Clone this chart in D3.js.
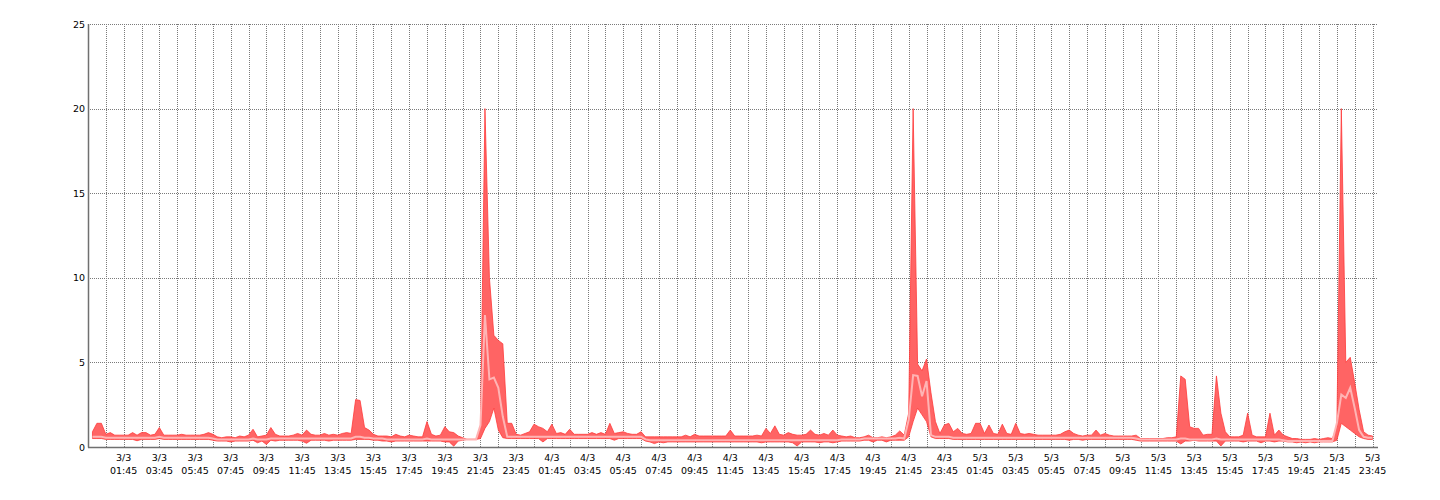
<!DOCTYPE html>
<html>
<head>
<meta charset="utf-8">
<script src="https://cdn.jsdelivr.net/npm/d3@7/dist/d3.min.js"></script>
<style>
  html, body { margin: 0; padding: 0; background: #ffffff; }
  svg { display: block; }
  text { font-family: "DejaVu Sans", Verdana, sans-serif; font-size: 9.5px; fill: #000; }
</style>
</head>
<body>
<svg id="chart" width="1440" height="500"></svg>
<script>
// ---- data (15-minute samples, 3/3 00:00 .. 5/3 23:45) ----
const sampleStart = new Date(2023, 2, 3, 0, 0);
const sampleMinutes = 15;

const seriesMax = [
  // 3/3
  0.9,1.4,1.4,0.75,0.85,0.7,0.7,0.7,
  0.7,0.85,0.7,0.85,0.85,0.7,0.75,1.15,
  0.7,0.7,0.7,0.7,0.75,0.7,0.7,0.7,
  0.7,0.75,0.85,0.75,0.6,0.55,0.6,0.6,
  0.55,0.65,0.6,0.7,1.05,0.6,0.65,0.7,
  1.15,0.75,0.65,0.65,0.65,0.7,0.8,0.7,
  1.0,0.75,0.7,0.7,0.8,0.7,0.75,0.7,
  0.8,0.85,0.8,2.8,2.75,1.15,1.0,0.75,
  0.65,0.65,0.65,0.6,0.75,0.65,0.6,0.7,
  0.65,0.6,0.6,1.5,0.75,0.65,0.7,1.2,
  0.9,0.85,0.65,0.55,0.45,0.45,0.45,1.2,
  20,10,6.6,6.3,6.1,1.4,1.4,0.75,
  // 4/3
  0.7,0.8,0.9,1.35,1.2,1.1,0.9,1.35,
  0.8,0.85,0.75,1.05,0.75,0.75,0.75,0.75,
  0.85,0.75,0.85,0.75,1.4,0.8,0.85,0.9,
  0.8,0.75,0.75,0.9,0.6,0.6,0.6,0.6,
  0.6,0.6,0.6,0.6,0.6,0.7,0.6,0.75,
  0.65,0.65,0.65,0.65,0.65,0.65,0.65,1.0,
  0.65,0.65,0.65,0.65,0.65,0.7,0.65,1.1,
  0.8,1.25,0.75,0.7,0.85,0.75,0.7,0.7,
  0.75,1.0,0.75,0.7,0.8,0.7,1.0,0.7,
  0.65,0.6,0.65,0.55,0.55,0.6,0.7,0.55,
  0.55,0.6,0.55,0.6,0.7,0.95,0.7,2.0,
  20,4.9,4.5,5.2,3.2,1.5,0.8,1.3,
  // 5/3
  1.4,0.9,1.1,0.8,0.75,0.8,1.4,1.4,
  0.8,1.3,0.8,0.75,1.35,0.8,0.75,1.4,
  0.8,0.75,0.8,0.75,0.7,0.7,0.7,0.7,
  0.7,0.75,0.9,1.0,0.8,0.7,0.65,0.7,
  0.7,1.0,0.7,0.8,0.7,0.65,0.65,0.65,
  0.65,0.65,0.7,0.5,0.5,0.5,0.5,0.5,
  0.5,0.55,0.55,0.6,4.2,4.0,1.2,1.1,
  1.1,0.7,0.75,0.75,4.2,2.0,0.9,0.6,
  0.6,0.6,0.7,2.0,0.7,0.6,0.6,0.6,
  2.0,0.7,1.0,0.7,0.6,0.5,0.5,0.45,
  0.45,0.45,0.5,0.45,0.5,0.55,0.5,1.2,
  20,5.0,5.3,3.8,2.2,0.9,0.7,0.65
];

const seriesAvg = [
  // 3/3
  0.6,0.6,0.6,0.55,0.55,0.55,0.55,0.55,
  0.55,0.55,0.55,0.55,0.55,0.55,0.55,0.6,
  0.55,0.55,0.55,0.55,0.55,0.55,0.55,0.55,
  0.55,0.55,0.55,0.5,0.45,0.45,0.45,0.45,
  0.45,0.45,0.45,0.45,0.5,0.45,0.45,0.45,
  0.5,0.5,0.5,0.5,0.5,0.5,0.5,0.5,
  0.5,0.5,0.5,0.5,0.5,0.5,0.5,0.5,
  0.5,0.5,0.5,0.6,0.6,0.55,0.55,0.5,
  0.5,0.5,0.45,0.45,0.45,0.45,0.45,0.45,
  0.45,0.45,0.45,0.5,0.45,0.45,0.45,0.45,
  0.45,0.45,0.45,0.45,0.45,0.45,0.45,1.3,
  7.8,4.0,4.1,3.5,1.8,0.6,0.6,0.6,
  // 4/3
  0.6,0.6,0.6,0.6,0.6,0.6,0.6,0.6,
  0.6,0.6,0.6,0.6,0.6,0.6,0.6,0.6,
  0.6,0.6,0.6,0.6,0.6,0.6,0.6,0.6,
  0.6,0.6,0.6,0.6,0.45,0.4,0.4,0.4,
  0.4,0.4,0.4,0.4,0.4,0.4,0.4,0.4,
  0.4,0.4,0.4,0.4,0.4,0.4,0.4,0.4,
  0.4,0.4,0.4,0.4,0.4,0.4,0.4,0.4,
  0.4,0.4,0.4,0.4,0.4,0.4,0.4,0.4,
  0.4,0.4,0.4,0.4,0.4,0.4,0.4,0.4,
  0.45,0.45,0.45,0.45,0.45,0.5,0.5,0.5,
  0.5,0.5,0.5,0.5,0.5,0.55,0.5,1.6,
  4.25,4.2,3.0,3.9,0.7,0.6,0.6,0.6,
  // 5/3
  0.6,0.55,0.55,0.55,0.55,0.55,0.55,0.55,
  0.55,0.55,0.55,0.55,0.55,0.55,0.55,0.55,
  0.55,0.55,0.55,0.55,0.55,0.55,0.55,0.55,
  0.55,0.55,0.55,0.55,0.55,0.55,0.55,0.55,
  0.55,0.55,0.55,0.55,0.55,0.55,0.55,0.55,
  0.55,0.55,0.5,0.45,0.45,0.45,0.45,0.45,
  0.45,0.45,0.45,0.45,0.5,0.5,0.45,0.45,
  0.45,0.45,0.45,0.45,0.5,0.45,0.45,0.45,
  0.45,0.45,0.45,0.45,0.45,0.45,0.45,0.45,
  0.45,0.45,0.45,0.4,0.35,0.35,0.35,0.35,
  0.35,0.35,0.35,0.35,0.35,0.35,0.35,1.4,
  3.1,2.9,3.5,2.3,1.0,0.6,0.55,0.55
];

const seriesMin = [
  // 3/3
  0.5,0.5,0.5,0.45,0.45,0.45,0.45,0.45,
  0.45,0.45,0.37,0.45,0.45,0.45,0.45,0.5,
  0.45,0.45,0.45,0.45,0.45,0.45,0.45,0.45,
  0.45,0.45,0.45,0.4,0.35,0.35,0.35,0.3,
  0.35,0.35,0.35,0.35,0.4,0.25,0.35,0.15,
  0.4,0.35,0.4,0.4,0.4,0.4,0.4,0.35,
  0.22,0.4,0.4,0.4,0.4,0.35,0.4,0.4,
  0.4,0.4,0.4,0.45,0.45,0.45,0.45,0.4,
  0.4,0.35,0.35,0.3,0.35,0.35,0.35,0.35,
  0.35,0.35,0.35,0.35,0.35,0.35,0.35,0.3,
  0.3,0.05,0.35,0.4,0.45,0.45,0.45,0.5,
  1.1,1.5,2.3,1.0,0.55,0.5,0.5,0.5,
  // 4/3
  0.5,0.5,0.5,0.5,0.5,0.3,0.5,0.5,
  0.5,0.5,0.5,0.5,0.5,0.5,0.5,0.5,
  0.5,0.5,0.5,0.5,0.5,0.4,0.5,0.5,
  0.5,0.5,0.5,0.5,0.35,0.3,0.2,0.3,
  0.25,0.3,0.3,0.3,0.3,0.3,0.3,0.3,
  0.3,0.3,0.3,0.3,0.3,0.3,0.3,0.3,
  0.3,0.3,0.3,0.3,0.3,0.3,0.25,0.3,
  0.3,0.3,0.3,0.3,0.3,0.25,0.06,0.3,
  0.3,0.3,0.3,0.25,0.3,0.3,0.25,0.3,
  0.35,0.35,0.35,0.35,0.35,0.4,0.4,0.3,
  0.4,0.4,0.3,0.4,0.4,0.4,0.4,0.6,
  1.5,2.3,1.9,1.5,0.6,0.5,0.5,0.5,
  // 5/3
  0.5,0.45,0.45,0.45,0.45,0.45,0.45,0.45,
  0.45,0.45,0.45,0.45,0.45,0.45,0.45,0.45,
  0.45,0.45,0.45,0.45,0.45,0.45,0.45,0.45,
  0.45,0.45,0.45,0.4,0.45,0.45,0.4,0.45,
  0.45,0.45,0.45,0.45,0.45,0.45,0.45,0.45,
  0.45,0.45,0.4,0.35,0.35,0.35,0.35,0.35,
  0.35,0.35,0.35,0.35,0.18,0.35,0.35,0.4,
  0.35,0.35,0.35,0.35,0.35,0.06,0.35,0.35,
  0.35,0.35,0.3,0.35,0.35,0.35,0.25,0.35,
  0.35,0.3,0.35,0.35,0.3,0.3,0.25,0.3,
  0.25,0.3,0.25,0.3,0.3,0.3,0.3,0.4,
  1.4,1.2,1.0,0.8,0.6,0.5,0.45,0.45
];

const yTicks = [0, 5, 10, 15, 20, 25];
const dayLabels = ["3/3", "4/3", "5/3"];
const hourLabels = ["01:45","03:45","05:45","07:45","09:45","11:45","13:45","15:45","17:45","19:45","21:45","23:45"];
const axisStart = new Date(2023, 2, 2, 23, 45);
const axisEnd = new Date(2023, 2, 6, 0, 0);

// ---- build ----
const svg = d3.select("#chart");
const margin = { left: 88, top: 24, right: 1377, bottom: 447 };

const x = d3.scaleTime().domain([axisStart, axisEnd]).range([margin.left, margin.right]);
const y = d3.scaleLinear().domain([0, 25]).range([margin.bottom, margin.top]);

const data = seriesMax.map((v, i) => ({
  t: new Date(sampleStart.getTime() + i * sampleMinutes * 60000),
  max: v, avg: seriesAvg[i], min: seriesMin[i]
}));

// grid: vertical lines every hour at :45
const gridTimes = [];
for (let h = 1; h <= 72; h++) gridTimes.push(new Date(axisStart.getTime() + h * 3600000));
const labelTimes = [];
dayLabels.forEach((d, di) => hourLabels.forEach((hl, hi) => {
  labelTimes.push({ t: new Date(axisStart.getTime() + (di * 24 + hi * 2 + 2) * 3600000), day: d, hour: hl });
}));

const grid = svg.append("g").attr("shape-rendering", "crispEdges");
grid.selectAll("line.v").data(gridTimes).join("line")
  .attr("x1", d => Math.round(x(d)) + 0.5).attr("x2", d => Math.round(x(d)) + 0.5)
  .attr("y1", y(25)).attr("y2", y(0))
  .attr("stroke", "#7a7a7a").attr("stroke-dasharray", "1,1");
grid.selectAll("line.h").data(yTicks.filter(v => v > 0)).join("line")
  .attr("x1", margin.left).attr("x2", margin.right)
  .attr("y1", d => Math.round(y(d)) + 0.5).attr("y2", d => Math.round(y(d)) + 0.5)
  .attr("stroke", "#7a7a7a").attr("stroke-dasharray", "1,1");

// band min..max
const band = d3.area().x(d => x(d.t)).y0(d => y(d.min)).y1(d => y(d.max));
svg.append("path").datum(data).attr("d", band)
  .attr("fill", "#ff6464").attr("stroke", "#ff3a3a").attr("stroke-width", 0.8);

// avg line
const avgLine = d3.line().x(d => x(d.t)).y(d => y(d.avg));
svg.append("path").datum(data).attr("d", avgLine)
  .attr("fill", "none").attr("stroke", "#ffb4b4").attr("stroke-width", 2);

// axes lines
svg.append("line").attr("x1", margin.left + 0.5).attr("x2", margin.left + 0.5)
  .attr("y1", y(25)).attr("y2", y(0) + 0.5).attr("stroke", "#707070").attr("stroke-width", 1.5);
svg.append("line").attr("x1", margin.left).attr("x2", margin.right + 1)
  .attr("y1", y(0) + 0.5).attr("y2", y(0) + 0.5).attr("stroke", "#707070").attr("stroke-width", 1.5);

// y labels
svg.append("g").selectAll("text").data(yTicks).join("text")
  .attr("x", 85).attr("y", d => y(d) + 3.5).attr("text-anchor", "end").text(d => d);

// x labels
const xl = svg.append("g").selectAll("g").data(labelTimes).join("g")
  .attr("transform", d => `translate(${x(d.t)},0)`);
xl.append("text").attr("y", 461).attr("text-anchor", "middle").text(d => d.day);
xl.append("text").attr("y", 474.3).attr("text-anchor", "middle").text(d => d.hour);
</script>
</body>
</html>
